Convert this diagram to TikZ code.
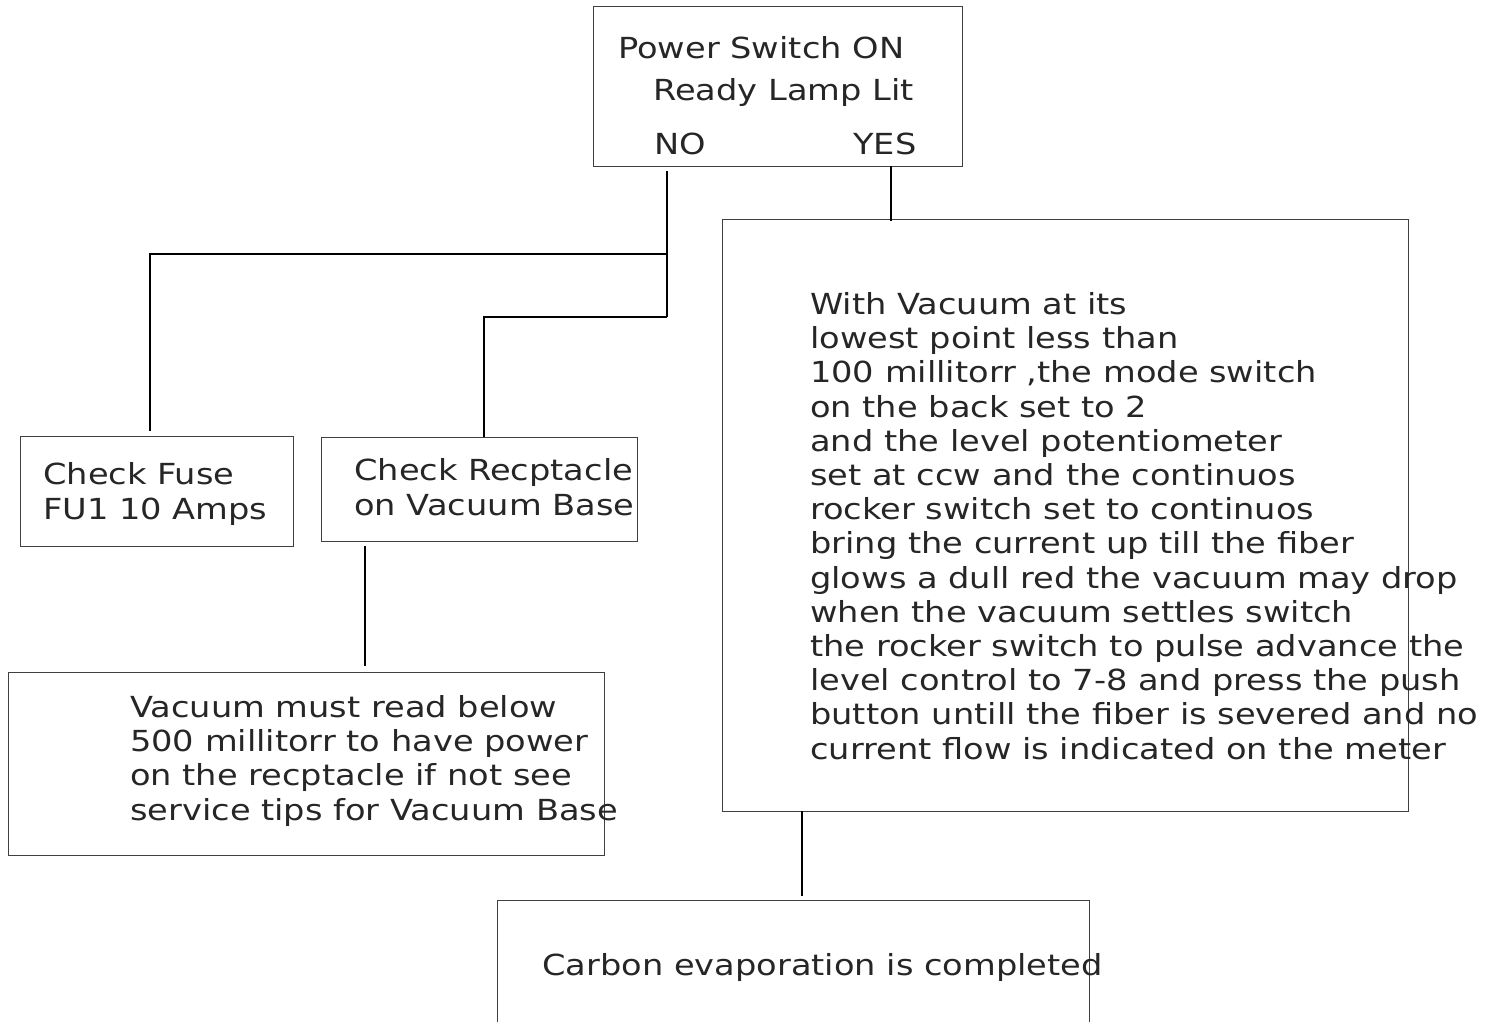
\documentclass[tikz,border=0pt]{standalone}
\usepackage{fontspec}
\setmainfont{DejaVu Sans}[FakeStretch=1.16]
\begin{document}
\begin{tikzpicture}[x=1pt,y=-1pt,
  box/.style={draw=black!75,line width=1.4pt,anchor=north west,inner sep=0pt},
  txt/.style={anchor=base west,inner sep=0pt,align=left,text=black!85,font=\fontsize{29}{34.2}\selectfont},
  conn/.style={draw=black,line width=1.7pt}]
\useasboundingbox (0,0) rectangle (1499,1021);
% boxes
\node[box,minimum width=369pt,minimum height=160pt] (top) at (593,6) {};
\node[box,minimum width=686pt,minimum height=592pt] (big) at (722,219) {};
\node[box,minimum width=273pt,minimum height=110pt] (fuse) at (20,436) {};
\node[box,minimum width=316pt,minimum height=104pt] (rec) at (321,437) {};
\node[box,minimum width=596pt,minimum height=183pt] (vac) at (8,672) {};
\node[box,minimum width=592pt,minimum height=140pt] (carb) at (497,900) {};
% texts (anchor = baseline of the last line)
\node[txt] (t1) at (618,58) {Power Switch ON};
\node[txt] (t2) at (653,100) {Ready Lamp Lit};
\node[txt] (no) at (654,154) {NO};
\node[txt] (yes) at (853,154) {YES};
\node[txt] (tf) at (43,519) {Check Fuse\\FU1 10 Amps};
\node[txt] (tr) at (354,515) {Check Recptacle\\on Vacuum Base};
\node[txt] (tb) at (810,759) {With Vacuum at its\\lowest point less than\\100 millitorr ,the mode switch\\on the back set to 2\\and the level potentiometer\\set at ccw and the continuos\\rocker switch set to continuos\\bring the current up till the fiber\\glows a dull red the vacuum may drop\\when the vacuum settles switch\\the rocker switch to pulse advance the\\level control to 7-8 and press the push\\button untill the fiber is severed and no\\current flow is indicated on the meter};
\node[txt] (tv) at (130,820) {Vacuum must read below\\500 millitorr to have power\\on the recptacle if not see\\service tips for Vacuum Base};
\node[txt] (tc) at (542,975) {Carbon evaporation is completed};
% connector points
\coordinate (noOut) at (667,171);
\coordinate (j1) at (667,254);
\coordinate (j2) at (667,317);
\coordinate (fuseIn) at (150,431);
\coordinate (recIn) at (484,437);
\coordinate (yesOut) at (891,166);
\coordinate (bigIn) at (891,221);
\coordinate (recOut) at (365,546);
\coordinate (vacIn) at (365,666);
\coordinate (bigOut) at (802,811);
\coordinate (carbIn) at (802,896);
% connectors
\draw[conn] (noOut) -- (j2);
\draw[conn] (j1) -| (fuseIn);
\draw[conn] (j2) -| (recIn);
\draw[conn] (yesOut) -- (bigIn);
\draw[conn] (recOut) -- (vacIn);
\draw[conn] (bigOut) -- (carbIn);
\end{tikzpicture}
\end{document}
